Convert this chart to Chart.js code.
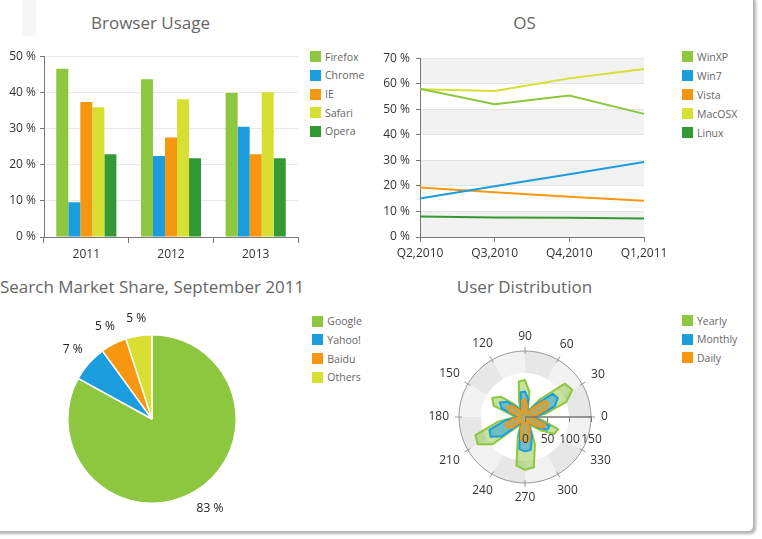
<!DOCTYPE html>
<html><head><meta charset="utf-8">
<script src="https://cdn.jsdelivr.net/npm/chart.js@4.4.1/dist/chart.umd.min.js"></script>
<style>
html,body{margin:0;padding:0;background:#fff;width:762px;height:539px;overflow:hidden;font-family:'Open Sans',sans-serif;}
#card{position:absolute;left:-10px;top:-6px;width:764px;height:538px;box-sizing:border-box;border:1px solid #b4b4b4;border-radius:6px;box-shadow:2px 2px 3px rgba(0,0,0,0.3);background:#fff;}
.title{position:absolute;font-size:17px;line-height:20px;color:#666;text-align:center;white-space:nowrap;}
canvas{position:absolute;}
.li{position:absolute;display:flex;align-items:center;height:11px;font-size:10.5px;color:#666;white-space:nowrap;}
.li .b{width:11px;height:11px;margin-right:4px;flex:none;}
</style></head><body>
<div id="card"></div>
<div style="position:absolute;left:22px;top:0;width:14px;height:36px;background:#f6f6f6"></div>
<div class="title" style="left:0;width:301px;top:13.4px">Browser Usage</div>
<div class="title" style="left:424px;width:201px;top:13.4px">OS</div>
<div class="title" style="left:0;width:304px;top:276.7px">Search Market Share, September 2011</div>
<div class="title" style="left:424px;width:201px;top:276.7px">User Distribution</div>
<canvas id="c1" style="left:0;top:45px" width="300" height="218"></canvas>
<canvas id="c2" style="left:380px;top:45px" width="300" height="218"></canvas>
<canvas id="c3" style="left:0;top:300px" width="304" height="238"></canvas>
<canvas id="c4" style="left:425px;top:317px" width="200" height="200"></canvas>
<script>
// ---------- data ----------
const browserCategories = ['2011', '2012', '2013'];
const firefox = [46.5, 43.6, 39.8];
const chrome  = [9.6, 22.4, 30.5];
const ie      = [37.3, 27.5, 22.9];
const safari  = [35.9, 38.1, 40.0];
const opera   = [22.9, 21.8, 21.8];

const osCategories = ['Q2,2010', 'Q3,2010', 'Q4,2010', 'Q1,2011'];
const winxp  = [58.0, 52.0, 55.4, 48.2];
const win7   = [15.1, 19.9, 24.6, 29.4];
const vista  = [19.4, 17.5, 15.8, 14.2];
const macosx = [57.8, 57.2, 62.1, 65.8];
const linux  = [8.0, 7.6, 7.5, 7.2];

const searchLabels = ['Google', 'Yahoo!', 'Baidu', 'Others'];
const searchValues = [83, 7, 5, 5];

const polarAngles = [0,10,20,30,40,50,60,70,80,90,100,110,120,130,140,150,160,170,180,190,200,210,220,230,240,250,260,270,280,290,300,310,320,330,340,350];
const yearly  = [22,50,100,124,118,52,18,20,58,84,82,40,20,38,72,86,76,32,22,62,120,124,96,30,20,48,112,120,116,66,20,28,48,77,80,40];
const monthly = [16,38,72,86,82,36,14,15,42,58,57,28,15,28,54,66,56,23,16,46,86,90,68,22,15,34,74,78,76,46,15,20,36,58,60,28];
const daily   = [11,26,52,61,57,24,10,10,28,40,39,19,10,21,40,46,38,15,11,30,46,48,36,13,10,26,52,55,53,30,10,16,32,48,49,20];

// ---------- styling ----------
const C = {green:'#8DC63F', blue:'#1C9DDE', orange:'#F7960F', yellow:'#D6DF32', dgreen:'#339A35'};
Chart.defaults.font.family = "'Open Sans', sans-serif";
Chart.defaults.font.size = 12;
Chart.defaults.color = '#333';
const common = {responsive:false, animation:false, events:[], plugins:{legend:{display:false}, title:{display:false}, tooltip:{enabled:false}}};

function legend(items, left, top, step){
  items.forEach((it, i) => {
    const row = document.createElement('div'); row.className = 'li';
    row.style.left = left + 'px'; row.style.top = (top + i * step) + 'px';
    const b = document.createElement('span'); b.className = 'b'; b.style.background = it.color;
    const t = document.createElement('span'); t.textContent = it.text;
    row.append(b, t); document.body.appendChild(row);
  });
}

// ---------- Browser Usage ----------
const barSets = [['Firefox', firefox, C.green], ['Chrome', chrome, C.blue], ['IE', ie, C.orange], ['Safari', safari, C.yellow], ['Opera', opera, C.dgreen]];
const chart1 = new Chart(document.getElementById('c1'), {
  type: 'bar',
  data: {labels: browserCategories, datasets: barSets.map(s => ({label: s[0], data: s[1], backgroundColor: s[2], borderWidth: 0, categoryPercentage: 0.71, barPercentage: 1}))},
  options: Object.assign({}, common, {
    layout: {padding: {top: 8, right: 2, left: 0, bottom: 0}},
    scales: {
      x: {grid: {display: true, drawOnChartArea: false, drawTicks: true, tickLength: 6, tickColor: '#777'}, border: {display: true, color: '#777'}, ticks: {padding: 4, color: '#333'}, afterFit(s) { s.height = 26; }},
      y: {min: 0, max: 50, ticks: {stepSize: 10, padding: 4, color: '#333', callback: v => v + ' %'}, grid: {color: c => c.tick && c.tick.value === 0 ? 'rgba(0,0,0,0)' : '#e8e8e8', tickColor: '#777', tickLength: 4}, border: {color: '#777'}, afterFit(s) { s.width = 44; }}
    }
  })
});
legend(chart1.data.datasets.map(d => ({text: d.label, color: d.backgroundColor})), 310, 51.3, 18.6);

// ---------- OS ----------
const bandPlugin = {
  id: 'bands',
  beforeDraw(chart) {
    const {ctx, chartArea} = chart; const y = chart.scales.y;
    ctx.save(); ctx.fillStyle = '#f2f2f2';
    for (let v = 0; v < 70; v += 20) {
      const y1 = y.getPixelForValue(v + 10), y0 = y.getPixelForValue(v);
      ctx.fillRect(chartArea.left, y1, chartArea.right - chartArea.left, y0 - y1);
    }
    ctx.restore();
  }
};
const lineSets = [['WinXP', winxp, C.green], ['Win7', win7, C.blue], ['Vista', vista, C.orange], ['MacOSX', macosx, C.yellow], ['Linux', linux, C.dgreen]];
const chart2 = new Chart(document.getElementById('c2'), {
  type: 'line',
  data: {labels: osCategories, datasets: lineSets.map(s => ({label: s[0], data: s[1], borderColor: s[2], backgroundColor: s[2], borderWidth: 2, pointRadius: 0, tension: 0, fill: false}))},
  options: Object.assign({}, common, {
    layout: {padding: {top: 8, right: 36, left: 0, bottom: 0}},
    scales: {
      x: {grid: {display: true, drawOnChartArea: false, drawTicks: true, tickLength: 5, tickColor: '#777'}, border: {display: true, color: '#777'}, ticks: {padding: 4, color: '#333', maxRotation: 0, autoSkip: false}, afterFit(s) { s.height = 26; }},
      y: {min: 0, max: 70, ticks: {stepSize: 10, padding: 6, color: '#333', callback: v => v + ' %'}, grid: {color: c => c.tick && c.tick.value === 0 ? 'rgba(0,0,0,0)' : '#e4e4e4', tickColor: '#777', tickLength: 4}, border: {color: '#777'}, afterFit(s) { s.width = 40; }}
    }
  }),
  plugins: [bandPlugin]
});
legend(chart2.data.datasets.map(d => ({text: d.label, color: d.borderColor})), 682, 51, 19);

// ---------- Search Market Share ----------
const pieLabelPlugin = {
  id: 'pieLabels',
  afterDatasetsDraw(chart) {
    const ctx = chart.ctx; const meta = chart.getDatasetMeta(0);
    const values = chart.data.datasets[0].data;
    ctx.save(); ctx.font = "12px 'Open Sans', sans-serif"; ctx.fillStyle = '#222';
    ctx.textAlign = 'center'; ctx.textBaseline = 'middle';
    meta.data.forEach((arc, i) => {
      const p = arc.getProps(['x', 'y', 'startAngle', 'endAngle', 'outerRadius'], true);
      const mid = (p.startAngle + p.endAngle) / 2;
      const txt = values[i] + ' %';
      const w = ctx.measureText(txt).width;
      const cs = Math.cos(mid), sn = Math.sin(mid);
      const d = p.outerRadius + 11 + (w / 2) * Math.abs(cs) + 4.5 * Math.abs(sn);
      ctx.fillText(txt, p.x + cs * d + (cs > 0 ? 4 : 0), p.y + sn * d - (cs > 0 ? 2 : 0));
    });
    ctx.restore();
  }
};
const pieColors = [C.green, C.blue, C.orange, C.yellow];
const chart3 = new Chart(document.getElementById('c3'), {
  type: 'pie',
  data: {labels: searchLabels, datasets: [{data: searchValues, backgroundColor: pieColors, borderColor: '#fff', borderWidth: 1.5, hoverOffset: 0}]},
  options: Object.assign({}, common, {layout: {padding: {left: 35, right: 35, top: 34, bottom: 34}}}),
  plugins: [pieLabelPlugin]
});
legend(searchLabels.map((l, i) => ({text: l, color: pieColors[i]})), 312.3, 315.7, 18.7);

// ---------- User Distribution ----------
const N = polarAngles.length;
const rIdx = j => (N - j) % N; // radar runs clockwise from the right; angles run counter-clockwise
const radarLabels = polarAngles.map((a, j) => polarAngles[rIdx(j)]);
const toRadar = arr => arr.map((v, j) => arr[rIdx(j)]);
const polarPlugin = {
  id: 'polarDeco',
  beforeDatasetsDraw(chart) {
    const ctx = chart.ctx; const s = chart.scales.r;
    const cx = s.xCenter, cy = s.yCenter;
    const R = s.getDistanceFromCenterForValue(150), Ri = s.getDistanceFromCenterForValue(100);
    ctx.save();
    for (let k = 0; k < 12; k++) {
      const a1 = -k * Math.PI / 6, a2 = -(k + 1) * Math.PI / 6;
      ctx.beginPath();
      ctx.arc(cx, cy, R, a1, a2, true);
      ctx.arc(cx, cy, Ri, a2, a1, false);
      ctx.closePath();
      ctx.fillStyle = k % 2 === 0 ? '#e7e7e7' : '#f2f2f2';
      ctx.fill();
    }
    ctx.beginPath(); ctx.arc(cx, cy, R, 0, Math.PI * 2);
    ctx.strokeStyle = '#999'; ctx.lineWidth = 1; ctx.stroke();
    for (let k = 0; k < 12; k++) {
      const a = k * Math.PI / 6;
      ctx.beginPath();
      ctx.moveTo(cx + Math.cos(a) * (R - 3), cy - Math.sin(a) * (R - 3));
      ctx.lineTo(cx + Math.cos(a) * (R + 4), cy - Math.sin(a) * (R + 4));
      ctx.stroke();
    }
    ctx.restore();
  },
  afterDatasetsDraw(chart) {
    const ctx = chart.ctx; const s = chart.scales.r;
    const cx = s.xCenter, cy = s.yCenter;
    const R = s.getDistanceFromCenterForValue(150);
    ctx.save();
    ctx.strokeStyle = '#777'; ctx.lineWidth = 1.5;
    ctx.beginPath(); ctx.moveTo(cx, cy); ctx.lineTo(cx + R + 1, cy); ctx.stroke();
    ctx.lineWidth = 1;
    ctx.font = "12px 'Open Sans', sans-serif"; ctx.fillStyle = '#333';
    ctx.textAlign = 'center'; ctx.textBaseline = 'middle';
    [0, 50, 100, 150].forEach(v => {
      const x = Math.round(cx + s.getDistanceFromCenterForValue(v)) + 0.5;
      ctx.beginPath(); ctx.moveTo(x, cy); ctx.lineTo(x, cy + 5); ctx.stroke();
      ctx.fillText(String(v), x, cy + 23);
    });
    radarLabels.forEach((lab, j) => {
      if (lab % 30 !== 0) return;
      const txt = String(lab);
      const u = s.getPointPosition(j, 1);
      const ux = u.x - cx, uy = u.y - cy;
      const w = ctx.measureText(txt).width;
      const d = 76 + (w / 2) * Math.abs(ux) + 4.5 * Math.abs(uy);
      ctx.fillText(txt, cx + ux * d, cy + uy * d);
    });
    ctx.restore();
  }
};
const polarSets = [['Yearly', yearly, C.green, 'rgba(141,198,63,0.5)', 3], ['Monthly', monthly, C.blue, 'rgba(28,157,222,0.5)', 2], ['Daily', daily, C.orange, 'rgba(247,150,15,0.5)', 1]];
const chart4 = new Chart(document.getElementById('c4'), {
  type: 'radar',
  data: {labels: radarLabels, datasets: polarSets.map(s => ({label: s[0], data: toRadar(s[1]), borderColor: s[2], backgroundColor: s[3], order: s[4], borderWidth: 2, fill: true, pointRadius: 0, tension: 0, borderJoinStyle: 'round'}))},
  options: Object.assign({}, common, {
    layout: {padding: 34},
    scales: {r: {min: 0, max: 150, startAngle: 90, ticks: {display: false, stepSize: 50}, grid: {display: false}, angleLines: {display: false}, pointLabels: {display: false}}}
  }),
  plugins: [polarPlugin]
});
legend(chart4.data.datasets.map(d => ({text: d.label, color: d.borderColor})), 682, 315, 18.5);
</script>
</body></html>
